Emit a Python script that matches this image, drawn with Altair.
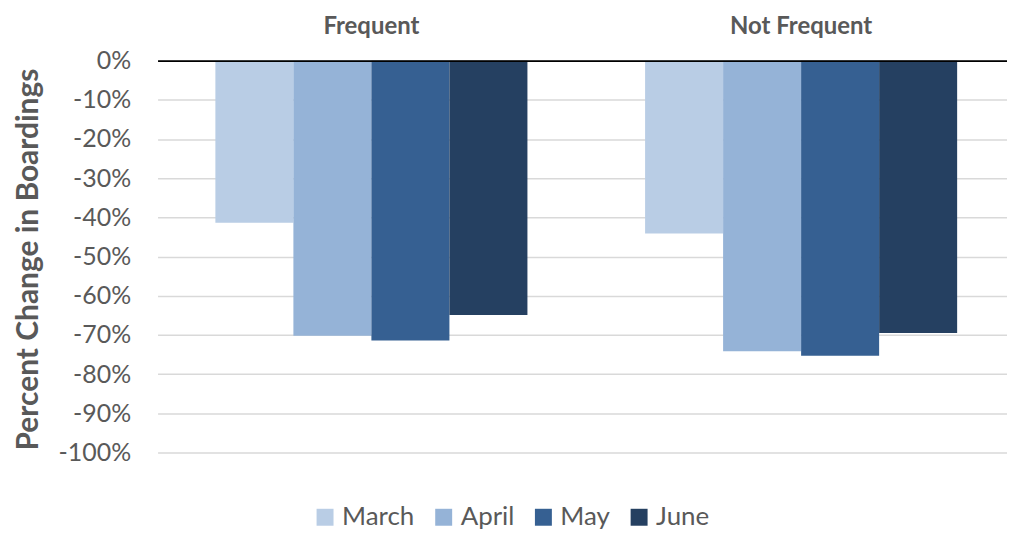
import altair as alt
import pandas as pd

groups = ["Frequent", "Not Frequent"]
months = ["March", "April", "May", "June"]
frequent = [-0.414, -0.702, -0.714, -0.649]
not_frequent = [-0.441, -0.742, -0.753, -0.695]
colors = ["#B9CDE5", "#95B3D7", "#366092", "#254061"]
y_ticks = [0, -0.1, -0.2, -0.3, -0.4, -0.5, -0.6, -0.7, -0.8, -0.9, -1.0]

rows = []
for g, vals in zip(groups, [frequent, not_frequent]):
    for m, v in zip(months, vals):
        rows.append({"group": g, "month": m, "value": v})
df = pd.DataFrame(rows)

FONT = "Lato"
GRAY = "#595959"

chart = alt.Chart(df).mark_bar().encode(
    x=alt.X("group:N", sort=groups,
            scale=alt.Scale(paddingInner=0.2738, paddingOuter=0.1253, align=0.537),
            axis=alt.Axis(orient="top", title=None, labelAngle=0, ticks=False,
                          domainColor="black", domainWidth=2, zindex=1,
                          labelFont=FONT, labelFontSize=24, labelFontWeight="bold",
                          labelColor=GRAY, labelPadding=22)),
    xOffset=alt.XOffset("month:N", sort=months,
                        scale=alt.Scale(paddingInner=0, paddingOuter=0)),
    y=alt.Y("value:Q", scale=alt.Scale(domain=[-1, 0], nice=False),
            axis=alt.Axis(values=y_ticks, labelExpr="round(datum.value*100) + '%'",
                          title="Percent Change in Boardings", domain=False, ticks=False,
                          grid=True, gridColor="#D9D9D9", gridWidth=1.5,
                          labelFont=FONT, labelFontSize=25, labelColor=GRAY,
                          labelPadding=27, titleFont=FONT, titleFontSize=30,
                          titleFontWeight="bold", titleColor=GRAY,
                          titleX=-129, titleY=199, titleAlign="center",
                          titleBaseline="middle")),
    color=alt.Color("month:N", sort=months,
                    scale=alt.Scale(domain=months, range=colors),
                    legend=alt.Legend(title=None, orient="none", direction="horizontal",
                                      legendX=155, legendY=445, symbolType="square",
                                      symbolSize=289, symbolStrokeWidth=0,
                                      labelFont=FONT, labelFontSize=26, labelColor=GRAY,
                                      labelOffset=4, columnPadding=16)),
).properties(
    width=852, height=393,
    padding={"left": 5, "top": 6, "right": 0, "bottom": 0},
).configure_view(stroke=None)

chart.save("out.html", embed_options={"renderer": "svg", "actions": False})
